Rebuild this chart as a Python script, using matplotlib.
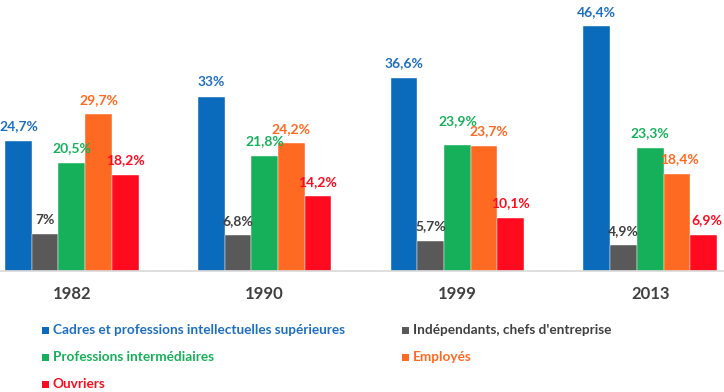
import numpy as np
import matplotlib
matplotlib.use("Agg")
import matplotlib.pyplot as plt
from matplotlib.patches import Rectangle

# =====================================================
# Data
# =====================================================

years = ["1982", "1990", "1999", "2013"]

series_names = [
    "Cadres et professions intellectuelles supérieures",
    "Indépendants, chefs d'entreprise",
    "Professions intermédiaires",
    "Employés",
    "Ouvriers",
]

cadres = [24.7, 33.0, 36.6, 46.4]
independants = [7.0, 6.8, 5.7, 4.9]
intermediaires = [20.5, 21.8, 23.9, 23.3]
employes = [29.7, 24.2, 23.7, 18.4]
ouvriers = [18.2, 14.2, 10.1, 6.9]

values = [cadres, independants, intermediaires, employes, ouvriers]

bar_colors = ["#0A6ABB", "#595959", "#17B05A", "#FF6A22", "#FF0A1E"]
text_colors = ["#1F6FC0", "#404040", "#17B05A", "#FF6A22", "#FF0A1E"]

# label nudges in pixels (series index, year index) -> (dx, dy)
label_nudge = {
    (2, 2): (0, 9),
    (3, 2): (5, 0),
    (3, 3): (3, 0),
    (4, 3): (3, 0),
}

# =====================================================
# Figure
# =====================================================

plt.rcParams["font.family"] = ["Lato", "DejaVu Sans"]
plt.rcParams["font.weight"] = "bold"

W, H = 724, 392
fig = plt.figure(figsize=(W / 100, H / 100), dpi=100)

base_px = 271
ax = fig.add_axes([0, (H - base_px) / H, 1, base_px / H])

x = np.arange(len(years))
step = 192.8
first_px = 71.8
bw = 26.7 / step

for k, (name, vals) in enumerate(zip(series_names, values)):
    pos = x + (k - 2) * bw
    ax.bar(pos, vals, width=bw, color=bar_colors[k],
           edgecolor="white", linewidth=0.3, label=name)
    for i, (xi, v) in enumerate(zip(pos, vals)):
        dx, dy = label_nudge.get((k, i), (0, 0))
        lab = f"{v:g}".replace(".", ",") + "%"
        ax.annotate(lab, (xi, v), xytext=(dx * 0.72, 7.5 + dy * 0.72),
                    textcoords="offset points",
                    ha="center", va="baseline", fontsize=10,
                    fontweight="bold", color=text_colors[k])

ax.set_xlim(-first_px / step, (W - first_px) / step)
ax.set_ylim(0, base_px / 5.28)

for s in ["top", "left", "right"]:
    ax.spines[s].set_visible(False)
ax.spines["bottom"].set_color("#D9D9D9")
ax.spines["bottom"].set_linewidth(1.2)
ax.set_yticks([])
ax.set_xticks(x)
ax.set_xticklabels(years, fontsize=12, fontweight="bold", color="#404040")
ax.tick_params(axis="x", length=0, pad=11)

# =====================================================
# Legend (drawn by hand to match the layout)
# =====================================================

legend_pos = [
    (42, 330),   # Cadres
    (402, 330),  # Indépendants
    (42, 357),   # Professions
    (402, 357),  # Employés
    (42, 384),   # Ouvriers
]

for k, (lx, ly) in enumerate(legend_pos):
    sq = 7
    fig.add_artist(Rectangle((lx / W, (H - ly - sq / 2) / H), sq / W, sq / H,
                             transform=fig.transFigure,
                             color=bar_colors[k], linewidth=0))
    fig.text((lx + 11) / W, (H - ly) / H, series_names[k],
             fontsize=9.8, fontweight="bold",
             color=text_colors[k], ha="left", va="center")

fig.savefig("out.png", dpi=100)
